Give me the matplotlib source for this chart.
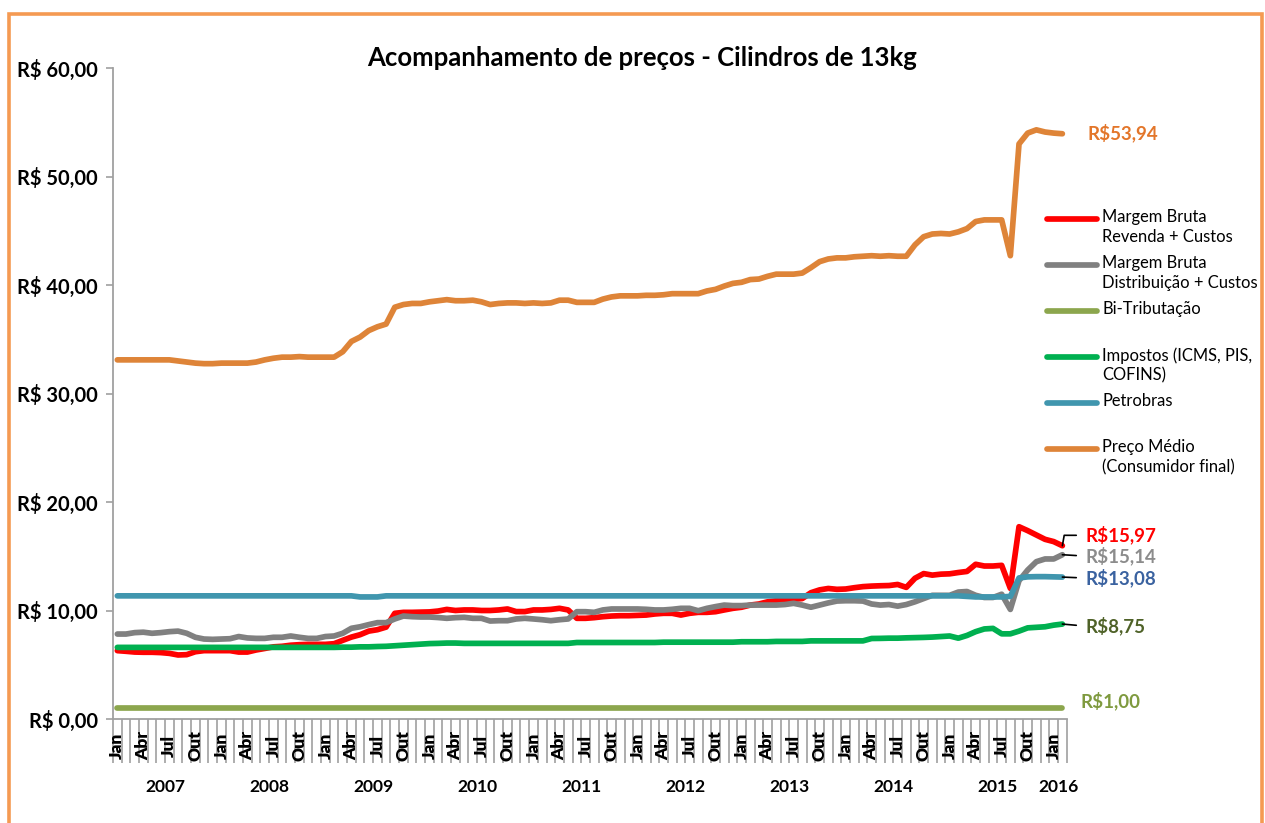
import matplotlib
matplotlib.use("Agg")
import matplotlib.pyplot as plt
from matplotlib.lines import Line2D
from matplotlib.patches import Rectangle
import matplotlib.transforms as mtrans

plt.rcParams['font.family'] = ['Lato', 'DejaVu Sans']

# ---------------- data ----------------
years = ["2007", "2008", "2009", "2010", "2011", "2012", "2013", "2014", "2015", "2016"]
months_per_year = [12, 12, 12, 12, 12, 12, 12, 12, 12, 2]
month_names = ["Jan", "", "", "Abr", "", "", "Jul", "", "", "Out", "", ""]
yticks = [0, 10, 20, 30, 40, 50, 60]
ytick_labels = ["R$ 0,00", "R$ 10,00", "R$ 20,00", "R$ 30,00", "R$ 40,00", "R$ 50,00", "R$ 60,00"]

series_names = [
    "Margem Bruta\nRevenda + Custos",
    "Margem Bruta\nDistribuição + Custos",
    "Bi-Tributação",
    "Impostos (ICMS, PIS,\nCOFINS)",
    "Petrobras",
    "Preço Médio\n(Consumidor final)",
]

revenda = [
    6.30, 6.24, 6.17, 6.15, 6.15, 6.12, 6.05, 5.90, 5.93, 6.20, 6.30, 6.30,
    6.30, 6.30, 6.17, 6.17, 6.36, 6.50, 6.65, 6.70, 6.80, 6.85, 6.88, 6.88,
    6.88, 6.94, 7.25, 7.55, 7.77, 8.10, 8.23, 8.47, 9.74, 9.83, 9.83, 9.85,
    9.87, 9.95, 10.10, 10.00, 10.05, 10.05, 10.00, 10.00, 10.05, 10.14, 9.90, 9.90,
    10.05, 10.05, 10.10, 10.20, 10.05, 9.28, 9.28, 9.34, 9.43, 9.49, 9.52, 9.52,
    9.55, 9.58, 9.68, 9.74, 9.74, 9.58, 9.74, 9.83, 9.83, 9.89, 10.05, 10.20,
    10.30, 10.50, 10.60, 10.80, 10.90, 10.97, 11.03, 11.10, 11.64, 11.90, 12.03, 11.95,
    11.98, 12.10, 12.20, 12.25, 12.28, 12.30, 12.40, 12.13, 12.97, 13.40, 13.26, 13.35,
    13.38, 13.50, 13.60, 14.26, 14.10, 14.10, 14.16, 12.04, 17.72, 17.36, 16.96, 16.56,
    16.35, 15.97,
]

distribuicao = [
    7.83, 7.83, 7.96, 8.00, 7.90, 7.96, 8.05, 8.10, 7.90, 7.53, 7.37, 7.34,
    7.37, 7.40, 7.60, 7.47, 7.43, 7.43, 7.53, 7.53, 7.65, 7.53, 7.43, 7.43,
    7.60, 7.65, 7.90, 8.36, 8.50, 8.70, 8.88, 8.88, 9.22, 9.49, 9.43, 9.40,
    9.40, 9.35, 9.28, 9.34, 9.37, 9.28, 9.28, 9.03, 9.06, 9.06, 9.22, 9.28,
    9.22, 9.15, 9.06, 9.15, 9.22, 9.89, 9.89, 9.83, 10.05, 10.14, 10.14, 10.14,
    10.14, 10.11, 10.05, 10.05, 10.11, 10.20, 10.20, 9.98, 10.20, 10.36, 10.50, 10.45,
    10.45, 10.50, 10.50, 10.50, 10.50, 10.55, 10.66, 10.50, 10.30, 10.50, 10.70, 10.87,
    10.90, 10.90, 10.87, 10.60, 10.50, 10.55, 10.40, 10.55, 10.80, 11.10, 11.40, 11.40,
    11.40, 11.70, 11.75, 11.40, 11.20, 11.20, 11.50, 10.10, 12.75, 13.73, 14.50, 14.75,
    14.75, 15.14,
]

bitributacao = [
    1.00, 1.00, 1.00, 1.00, 1.00, 1.00, 1.00, 1.00, 1.00, 1.00, 1.00, 1.00,
    1.00, 1.00, 1.00, 1.00, 1.00, 1.00, 1.00, 1.00, 1.00, 1.00, 1.00, 1.00,
    1.00, 1.00, 1.00, 1.00, 1.00, 1.00, 1.00, 1.00, 1.00, 1.00, 1.00, 1.00,
    1.00, 1.00, 1.00, 1.00, 1.00, 1.00, 1.00, 1.00, 1.00, 1.00, 1.00, 1.00,
    1.00, 1.00, 1.00, 1.00, 1.00, 1.00, 1.00, 1.00, 1.00, 1.00, 1.00, 1.00,
    1.00, 1.00, 1.00, 1.00, 1.00, 1.00, 1.00, 1.00, 1.00, 1.00, 1.00, 1.00,
    1.00, 1.00, 1.00, 1.00, 1.00, 1.00, 1.00, 1.00, 1.00, 1.00, 1.00, 1.00,
    1.00, 1.00, 1.00, 1.00, 1.00, 1.00, 1.00, 1.00, 1.00, 1.00, 1.00, 1.00,
    1.00, 1.00, 1.00, 1.00, 1.00, 1.00, 1.00, 1.00, 1.00, 1.00, 1.00, 1.00,
    1.00, 1.00,
]

impostos = [
    6.60, 6.60, 6.60, 6.60, 6.60, 6.60, 6.60, 6.60, 6.60, 6.60, 6.60, 6.60,
    6.60, 6.60, 6.60, 6.60, 6.60, 6.60, 6.60, 6.60, 6.60, 6.60, 6.60, 6.60,
    6.60, 6.60, 6.62, 6.62, 6.65, 6.65, 6.68, 6.70, 6.75, 6.80, 6.85, 6.90,
    6.95, 6.97, 7.00, 7.00, 6.97, 6.97, 6.97, 6.97, 6.97, 6.97, 6.97, 6.97,
    6.97, 6.97, 6.97, 6.97, 6.97, 7.05, 7.05, 7.05, 7.05, 7.05, 7.05, 7.05,
    7.05, 7.05, 7.05, 7.08, 7.08, 7.08, 7.08, 7.08, 7.08, 7.08, 7.08, 7.08,
    7.12, 7.12, 7.12, 7.12, 7.15, 7.15, 7.15, 7.15, 7.20, 7.20, 7.20, 7.20,
    7.20, 7.20, 7.20, 7.42, 7.43, 7.45, 7.45, 7.48, 7.50, 7.52, 7.55, 7.60,
    7.65, 7.45, 7.70, 8.05, 8.30, 8.35, 7.85, 7.85, 8.10, 8.40, 8.45, 8.50,
    8.65, 8.75,
]

petrobras = [
    11.35, 11.35, 11.35, 11.35, 11.35, 11.35, 11.35, 11.35, 11.35, 11.35, 11.35, 11.35,
    11.35, 11.35, 11.35, 11.35, 11.35, 11.35, 11.35, 11.35, 11.35, 11.35, 11.35, 11.35,
    11.35, 11.35, 11.35, 11.35, 11.25, 11.25, 11.25, 11.35, 11.35, 11.35, 11.35, 11.35,
    11.35, 11.35, 11.35, 11.35, 11.35, 11.35, 11.35, 11.35, 11.35, 11.35, 11.35, 11.35,
    11.35, 11.35, 11.35, 11.35, 11.35, 11.35, 11.35, 11.35, 11.35, 11.35, 11.35, 11.35,
    11.35, 11.35, 11.35, 11.35, 11.35, 11.35, 11.35, 11.35, 11.35, 11.35, 11.35, 11.35,
    11.35, 11.35, 11.35, 11.35, 11.35, 11.35, 11.35, 11.35, 11.35, 11.35, 11.35, 11.35,
    11.35, 11.35, 11.35, 11.35, 11.35, 11.35, 11.35, 11.35, 11.35, 11.35, 11.35, 11.35,
    11.35, 11.35, 11.30, 11.25, 11.25, 11.25, 11.25, 11.30, 13.00, 13.10, 13.12, 13.12,
    13.10, 13.08,
]

preco_medio = [
    33.10, 33.10, 33.10, 33.10, 33.10, 33.10, 33.10, 33.00, 32.90, 32.80, 32.75, 32.75,
    32.80, 32.80, 32.80, 32.80, 32.90, 33.10, 33.25, 33.35, 33.35, 33.40, 33.35, 33.35,
    33.35, 33.35, 33.85, 34.80, 35.20, 35.80, 36.15, 36.40, 37.95, 38.20, 38.30, 38.30,
    38.45, 38.55, 38.65, 38.55, 38.55, 38.60, 38.45, 38.20, 38.30, 38.35, 38.35, 38.30,
    38.35, 38.30, 38.35, 38.60, 38.60, 38.40, 38.40, 38.40, 38.70, 38.90, 39.00, 39.00,
    39.00, 39.05, 39.05, 39.10, 39.20, 39.20, 39.20, 39.20, 39.45, 39.60, 39.90, 40.15,
    40.25, 40.50, 40.55, 40.80, 41.00, 41.00, 41.00, 41.10, 41.60, 42.15, 42.40, 42.50,
    42.50, 42.60, 42.65, 42.70, 42.65, 42.70, 42.65, 42.65, 43.70, 44.45, 44.70, 44.75,
    44.70, 44.90, 45.20, 45.85, 46.00, 46.00, 46.00, 42.70, 53.00, 54.00, 54.30, 54.10,
    54.00, 53.94,
]

end_labels = ["R$15,97", "R$15,14", "R$1,00", "R$8,75", "R$13,08", "R$53,94"]

# ---------------- styling ----------------
line_colors = ["#FF0000", "#808080", "#8CA64D", "#00B050", "#4096AE", "#DE8438"]
label_colors = ["#FF0000", "#8C8C8C", "#7F9A3F", "#4F6228", "#3A62A0", "#E3762A"]

W, H = 1265, 823
fig = plt.figure(figsize=(W / 100, H / 100), dpi=100)
fig.patch.set_facecolor("white")

def fx(px):
    return px / W

def fy(py):
    return 1 - py / H

ax_left, ax_right, ax_top, ax_bottom = 113, 1066.7, 68, 719
ax = fig.add_axes([fx(ax_left), fy(ax_bottom), fx(ax_right) - fx(ax_left), fy(ax_top) - fy(ax_bottom)])
ax_h_px = ax_bottom - ax_top

# outer orange border (bottom edge lies outside the picture)
fig.add_artist(Rectangle((fx(9), fy(840)), fx(1262) - fx(9), fy(14) - fy(840),
                         transform=fig.transFigure, fill=False, edgecolor="#F59A52", lw=2.6,
                         clip_on=True))

n = len(preco_medio)
xs = list(range(n))
all_series = [revenda, distribuicao, bitributacao, impostos, petrobras, preco_medio]
for vals, col in zip(all_series, line_colors):
    ax.plot(xs, vals, color=col, lw=4.1, solid_capstyle="round", solid_joinstyle="round", clip_on=False)

ax.set_xlim(-0.5, n - 0.5)
ax.set_ylim(0, 60)
for s in ["top", "right"]:
    ax.spines[s].set_visible(False)
for s in ["left", "bottom"]:
    ax.spines[s].set_color("#A0A0A0")
    ax.spines[s].set_linewidth(1.3)

ax.set_yticks(yticks)
ax.set_yticklabels(ytick_labels, fontsize=14.5, fontweight="bold")
ax.tick_params(axis="y", direction="out", length=5, color="#A0A0A0", width=1.2, pad=6)

# month / year category axis
boundaries = [b - 0.5 for b in range(n + 1)]
ax.set_xticks(boundaries)
ax.set_xticklabels([])
ax.tick_params(axis="x", direction="out", length=44 * 0.72, color="#A0A0A0", width=1.2)
year_bounds = [-0.5]
for m in months_per_year:
    year_bounds.append(year_bounds[-1] + m)
ax.set_xticks(year_bounds, minor=True)
ax.tick_params(axis="x", which="minor", direction="out", length=81 * 0.72, color="#A0A0A0", width=1.2)

trans = mtrans.blended_transform_factory(ax.transData, ax.transAxes)
k = 0
for yi, (yr, m) in enumerate(zip(years, months_per_year)):
    for mi in range(m):
        lab = month_names[mi]
        if lab:
            ax.text(k, -27 / ax_h_px, lab, transform=trans, rotation=90, ha="center", va="center",
                    fontsize=12.5, fontweight="heavy")
        k += 1
    center = (year_bounds[yi] + year_bounds[yi + 1]) / 2
    ax.text(center, -68 / ax_h_px, yr, transform=trans, ha="center", va="center",
            fontsize=12.5, fontweight="bold")

# title
fig.text(fx(642), fy(58), "Acompanhamento de preços - Cilindros de 13kg", ha="center", va="center",
         fontsize=18.5, fontweight="bold")

# legend (manual, line sample aligned with first text line)
leg_y = [219, 265, 311, 357, 403, 449]
for name, col, ly in zip(series_names, line_colors, leg_y):
    fig.add_artist(Line2D([fx(1047), fx(1097)], [fy(ly), fy(ly)], transform=fig.transFigure,
                          color=col, lw=4.1, solid_capstyle="round"))
    fig.text(fx(1102), fy(ly - 10), name, ha="left", va="top", fontsize=11.9, linespacing=1.32)

# end value labels
last = n - 1
offsets = {
    0: (17, 7.5, True),
    1: (17, -1, True),
    2: (13, 5, False),
    3: (17, -1.5, True),
    4: (17, -0.7, True),
    5: (18, 0.5, False),
}
for idx, (vals, lab, col) in enumerate(zip(all_series, end_labels, label_colors)):
    dx, dy, leader = offsets[idx]
    kw = {}
    if leader:
        if idx == 0:
            cs = "angle,angleA=0,angleB=80,rad=0"
        else:
            cs = "arc3"
        kw["arrowprops"] = dict(arrowstyle="-", color="black", lw=1.2, shrinkA=5, shrinkB=0,
                                relpos=(0, 0.5), connectionstyle=cs)
    ax.annotate(lab, xy=(last, vals[last]), xytext=(dx, dy), textcoords="offset points",
                ha="left", va="center", fontsize=13.5, fontweight="bold", color=col,
                annotation_clip=False, **kw)

fig.savefig("out.png", dpi=100, facecolor="white")
